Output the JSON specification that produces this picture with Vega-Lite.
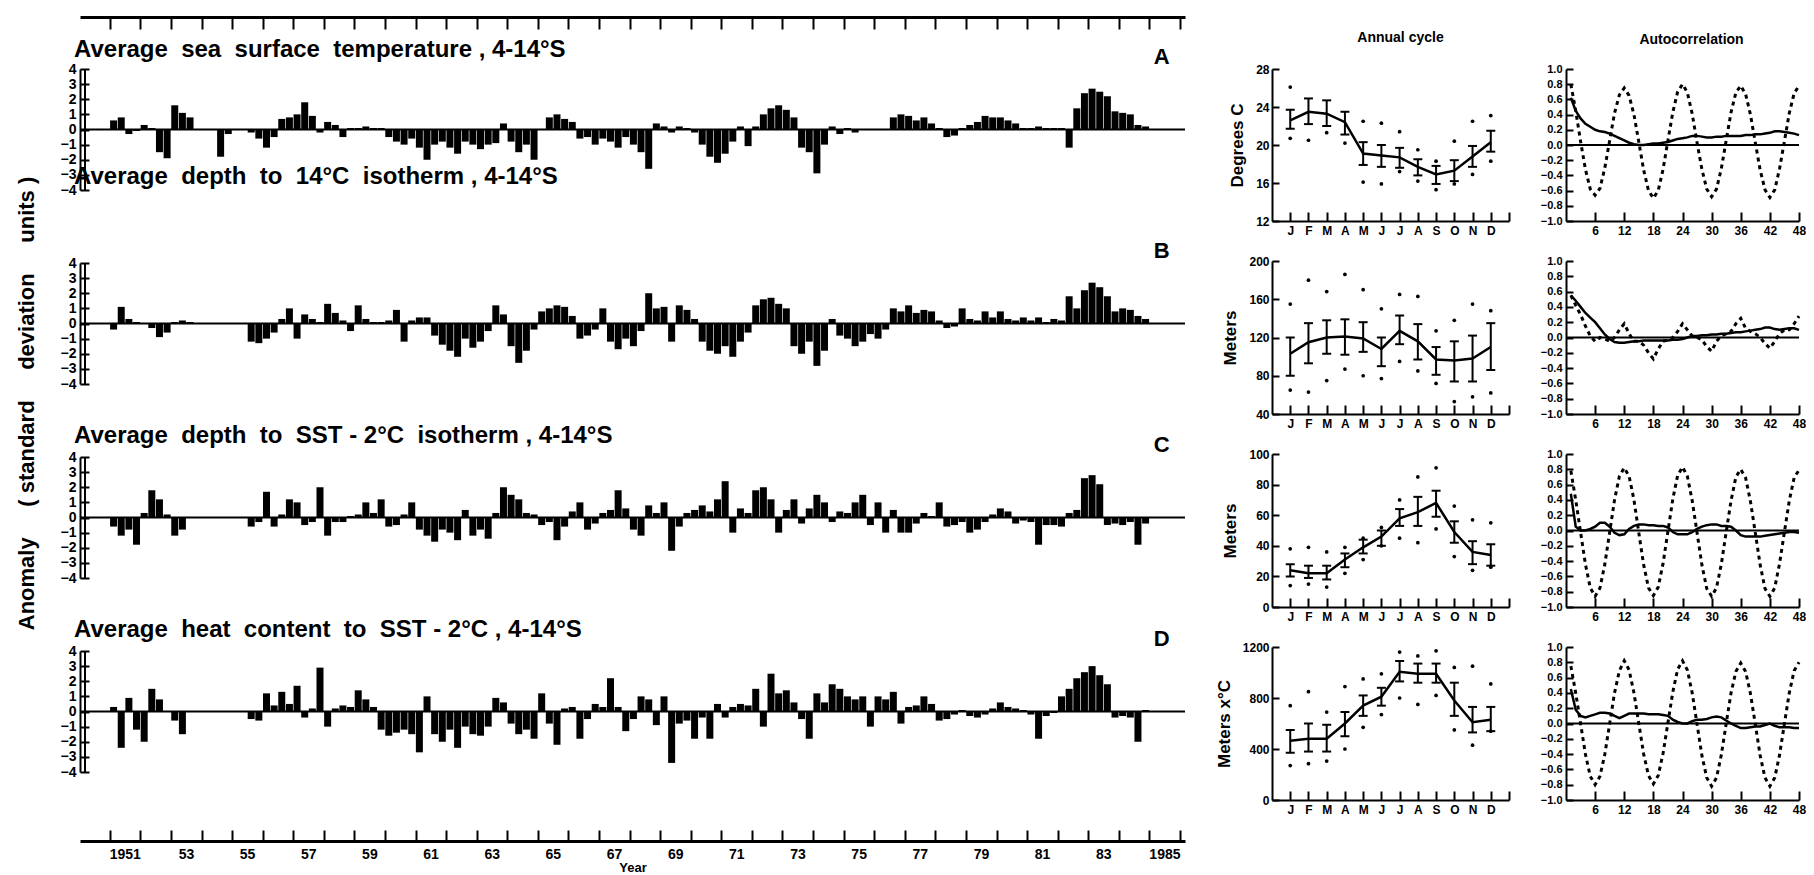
{
"$schema":"https://vega.github.io/schema/vega-lite/v6.json",
"background":"white",
"padding":{"left":14,"top":16,"right":0,"bottom":0},
"config":{
 "font":"Liberation Sans",
 "view":{"stroke":null},
 "axis":{"labelFont":"Liberation Sans","labelFontWeight":"bold","labelColor":"black","titleFont":"Liberation Sans","titleFontWeight":"bold","titleColor":"black","domain":true,"domainColor":"black","domainWidth":2,"ticks":true,"tickColor":"black","tickWidth":2,"grid":false,"labelFlush":false,"labelOverlap":false,"tickCount":100},
 "title":{"font":"Liberation Sans","fontWeight":"bold","color":"black"}
},
"datasets":{
"ts":[
{"t":1951.125,"a":0.6,"b":-0.4,"c":-0.6,"d":0.3},{"t":1951.375,"a":0.8,"b":1.1,"c":-1.2,"d":-2.4},{"t":1951.625,"a":-0.3,"b":0.3,"c":-0.8,"d":0.9},{"t":1951.875,"a":-0.1,"b":0.1,"c":-1.8,"d":-1.2},
{"t":1952.125,"a":0.3,"b":0.0,"c":0.3,"d":-2.0},{"t":1952.375,"a":0.1,"b":-0.3,"c":1.8,"d":1.5},{"t":1952.625,"a":-1.5,"b":-0.9,"c":1.2,"d":0.8},{"t":1952.875,"a":-1.9,"b":-0.6,"c":0.2,"d":0.0},
{"t":1953.125,"a":1.6,"b":0.1,"c":-1.2,"d":-0.6},{"t":1953.375,"a":1.1,"b":0.2,"c":-0.8,"d":-1.5},{"t":1953.625,"a":0.8,"b":0.1,"c":0.0,"d":0.0},{"t":1953.875,"a":0.0,"b":0.0,"c":0.0,"d":0.0},
{"t":1954.125,"a":0.0,"b":0.0,"c":0.0,"d":0.0},{"t":1954.375,"a":0.0,"b":0.0,"c":0.0,"d":0.0},{"t":1954.625,"a":-1.8,"b":0.0,"c":0.0,"d":0.0},{"t":1954.875,"a":-0.3,"b":0.0,"c":0.0,"d":0.0},
{"t":1955.125,"a":0.0,"b":0.0,"c":0.0,"d":0.0},{"t":1955.375,"a":0.0,"b":0.0,"c":0.0,"d":0.0},{"t":1955.625,"a":-0.2,"b":-1.2,"c":-0.6,"d":-0.5},{"t":1955.875,"a":-0.6,"b":-1.3,"c":-0.3,"d":-0.6},
{"t":1956.125,"a":-1.2,"b":-1.0,"c":1.7,"d":1.2},{"t":1956.375,"a":-0.5,"b":-0.6,"c":-0.6,"d":0.4},{"t":1956.625,"a":0.7,"b":0.3,"c":0.2,"d":1.3},{"t":1956.875,"a":0.8,"b":1.0,"c":1.2,"d":0.5},
{"t":1957.125,"a":1.0,"b":-1.0,"c":1.0,"d":1.7},{"t":1957.375,"a":1.8,"b":0.6,"c":-0.5,"d":-0.4},{"t":1957.625,"a":0.9,"b":0.3,"c":-0.3,"d":0.2},{"t":1957.875,"a":-0.2,"b":0.1,"c":2.0,"d":2.9},
{"t":1958.125,"a":0.5,"b":1.3,"c":-1.2,"d":-1.0},{"t":1958.375,"a":0.3,"b":0.7,"c":-0.3,"d":0.2},{"t":1958.625,"a":-0.5,"b":0.2,"c":-0.3,"d":0.4},{"t":1958.875,"a":0.1,"b":-0.5,"c":0.1,"d":0.3},
{"t":1959.125,"a":0.1,"b":1.2,"c":0.2,"d":1.4},{"t":1959.375,"a":0.2,"b":0.3,"c":1.0,"d":0.8},{"t":1959.625,"a":0.1,"b":0.1,"c":0.3,"d":0.3},{"t":1959.875,"a":0.1,"b":0.1,"c":1.2,"d":-1.2},
{"t":1960.125,"a":-0.5,"b":0.2,"c":-0.6,"d":-1.6},{"t":1960.375,"a":-0.8,"b":0.9,"c":-0.5,"d":-1.4},{"t":1960.625,"a":-1.0,"b":-1.2,"c":0.2,"d":-1.2},{"t":1960.875,"a":-0.6,"b":0.2,"c":1.0,"d":-1.5},
{"t":1961.125,"a":-1.2,"b":0.4,"c":-0.8,"d":-2.7},{"t":1961.375,"a":-2.0,"b":0.4,"c":-1.2,"d":1.0},{"t":1961.625,"a":-1.0,"b":-0.8,"c":-1.6,"d":-1.5},{"t":1961.875,"a":-0.8,"b":-1.4,"c":-0.8,"d":-2.0},
{"t":1962.125,"a":-1.2,"b":-1.8,"c":-1.0,"d":-1.2},{"t":1962.375,"a":-1.6,"b":-2.2,"c":-1.5,"d":-2.4},{"t":1962.625,"a":-0.8,"b":-1.0,"c":0.5,"d":-1.0},{"t":1962.875,"a":-1.0,"b":-1.6,"c":-1.2,"d":-1.5},
{"t":1963.125,"a":-1.3,"b":-1.2,"c":-0.8,"d":-1.6},{"t":1963.375,"a":-1.0,"b":-0.5,"c":-1.4,"d":-1.0},{"t":1963.625,"a":-0.9,"b":1.2,"c":0.3,"d":0.9},{"t":1963.875,"a":0.4,"b":0.6,"c":2.0,"d":0.6},
{"t":1964.125,"a":-0.8,"b":-1.5,"c":1.5,"d":-0.8},{"t":1964.375,"a":-1.5,"b":-2.6,"c":1.2,"d":-1.5},{"t":1964.625,"a":-1.0,"b":-1.8,"c":0.3,"d":-1.2},{"t":1964.875,"a":-2.0,"b":-0.4,"c":0.2,"d":-1.8},
{"t":1965.125,"a":0.0,"b":0.8,"c":-0.5,"d":1.2},{"t":1965.375,"a":0.8,"b":1.0,"c":-0.3,"d":-0.8},{"t":1965.625,"a":1.0,"b":1.2,"c":-1.5,"d":-2.2},{"t":1965.875,"a":0.7,"b":1.1,"c":-0.6,"d":0.2},
{"t":1966.125,"a":0.5,"b":0.5,"c":0.4,"d":0.3},{"t":1966.375,"a":-0.6,"b":-1.0,"c":1.0,"d":-1.8},{"t":1966.625,"a":-0.5,"b":-0.8,"c":-0.8,"d":-0.5},{"t":1966.875,"a":-1.0,"b":-0.4,"c":-0.4,"d":0.5},
{"t":1967.125,"a":-0.6,"b":1.0,"c":0.3,"d":0.3},{"t":1967.375,"a":-0.8,"b":-1.2,"c":0.5,"d":2.2},{"t":1967.625,"a":-1.2,"b":-1.7,"c":1.8,"d":0.3},{"t":1967.875,"a":-0.5,"b":-1.0,"c":0.6,"d":-1.3},
{"t":1968.125,"a":-1.0,"b":-1.5,"c":-0.8,"d":-0.5},{"t":1968.375,"a":-1.5,"b":-0.5,"c":-1.2,"d":1.0},{"t":1968.625,"a":-2.6,"b":2.0,"c":0.8,"d":0.8},{"t":1968.875,"a":0.4,"b":1.0,"c":0.3,"d":-0.9},
{"t":1969.125,"a":0.2,"b":1.1,"c":1.0,"d":1.0},{"t":1969.375,"a":-0.2,"b":-1.2,"c":-2.2,"d":-3.4},{"t":1969.625,"a":0.2,"b":1.2,"c":-0.6,"d":-0.8},{"t":1969.875,"a":0.1,"b":0.9,"c":0.3,"d":-0.6},
{"t":1970.125,"a":-0.2,"b":0.3,"c":0.5,"d":-1.8},{"t":1970.375,"a":-1.0,"b":-1.2,"c":0.8,"d":-0.4},{"t":1970.625,"a":-1.8,"b":-1.8,"c":0.4,"d":-1.8},{"t":1970.875,"a":-2.2,"b":-2.0,"c":1.2,"d":0.5},
{"t":1971.125,"a":-1.6,"b":-1.5,"c":2.4,"d":-0.4},{"t":1971.375,"a":-0.8,"b":-2.2,"c":-1.0,"d":0.3},{"t":1971.625,"a":0.2,"b":-1.2,"c":0.6,"d":0.5},{"t":1971.875,"a":-1.1,"b":-0.6,"c":0.3,"d":0.4},
{"t":1972.125,"a":0.2,"b":1.2,"c":1.8,"d":1.5},{"t":1972.375,"a":1.0,"b":1.6,"c":2.0,"d":-1.0},{"t":1972.625,"a":1.4,"b":1.7,"c":1.2,"d":2.5},{"t":1972.875,"a":1.6,"b":1.3,"c":-1.0,"d":1.2},
{"t":1973.125,"a":1.3,"b":1.0,"c":0.5,"d":1.4},{"t":1973.375,"a":0.8,"b":-1.5,"c":1.2,"d":0.6},{"t":1973.625,"a":-1.2,"b":-2.0,"c":-0.4,"d":-0.5},{"t":1973.875,"a":-1.5,"b":-1.2,"c":0.6,"d":-1.8},
{"t":1974.125,"a":-2.9,"b":-2.8,"c":1.5,"d":1.2},{"t":1974.375,"a":-1.0,"b":-1.8,"c":1.0,"d":0.6},{"t":1974.625,"a":0.2,"b":0.3,"c":-0.3,"d":1.8},{"t":1974.875,"a":-0.3,"b":-0.8,"c":0.4,"d":1.5},
{"t":1975.125,"a":0.1,"b":-1.0,"c":0.3,"d":1.0},{"t":1975.375,"a":-0.2,"b":-1.5,"c":1.0,"d":0.8},{"t":1975.625,"a":0.0,"b":-1.2,"c":1.5,"d":1.0},{"t":1975.875,"a":0.0,"b":-0.7,"c":-0.5,"d":-1.0},
{"t":1976.125,"a":0.0,"b":-1.0,"c":1.0,"d":1.0},{"t":1976.375,"a":0.0,"b":-0.4,"c":-1.0,"d":0.8},{"t":1976.625,"a":0.8,"b":1.0,"c":0.5,"d":1.3},{"t":1976.875,"a":1.0,"b":0.8,"c":-1.0,"d":-0.8},
{"t":1977.125,"a":0.9,"b":1.2,"c":-1.0,"d":0.3},{"t":1977.375,"a":0.6,"b":0.7,"c":-0.4,"d":0.4},{"t":1977.625,"a":0.8,"b":0.9,"c":0.3,"d":1.0},{"t":1977.875,"a":0.4,"b":0.8,"c":0.1,"d":0.5},
{"t":1978.125,"a":0.1,"b":0.2,"c":1.0,"d":-0.6},{"t":1978.375,"a":-0.5,"b":-0.3,"c":-0.6,"d":-0.5},{"t":1978.625,"a":-0.4,"b":-0.2,"c":-0.5,"d":-0.2},{"t":1978.875,"a":0.1,"b":1.0,"c":-0.3,"d":0.1},
{"t":1979.125,"a":0.3,"b":0.3,"c":-1.0,"d":-0.3},{"t":1979.375,"a":0.5,"b":0.2,"c":-0.8,"d":-0.4},{"t":1979.625,"a":0.9,"b":0.8,"c":-0.3,"d":-0.2},{"t":1979.875,"a":0.8,"b":0.4,"c":0.2,"d":0.2},
{"t":1980.125,"a":0.8,"b":0.8,"c":0.6,"d":0.6},{"t":1980.375,"a":0.6,"b":0.3,"c":0.4,"d":0.3},{"t":1980.625,"a":0.4,"b":0.2,"c":-0.4,"d":0.2},{"t":1980.875,"a":0.1,"b":0.4,"c":-0.2,"d":0.1},
{"t":1981.125,"a":0.1,"b":0.2,"c":-0.3,"d":-0.2},{"t":1981.375,"a":0.2,"b":0.4,"c":-1.8,"d":-1.8},{"t":1981.625,"a":0.1,"b":0.1,"c":-0.5,"d":-0.3},{"t":1981.875,"a":0.1,"b":0.3,"c":-0.5,"d":-0.1},
{"t":1982.125,"a":0.1,"b":0.2,"c":-0.6,"d":1.0},{"t":1982.375,"a":-1.2,"b":1.8,"c":0.3,"d":1.5},{"t":1982.625,"a":1.4,"b":1.0,"c":0.5,"d":2.2},{"t":1982.875,"a":2.4,"b":2.2,"c":2.6,"d":2.6},
{"t":1983.125,"a":2.7,"b":2.7,"c":2.8,"d":3.0},{"t":1983.375,"a":2.5,"b":2.4,"c":2.2,"d":2.4},{"t":1983.625,"a":2.2,"b":1.8,"c":-0.5,"d":1.8},{"t":1983.875,"a":1.2,"b":0.8,"c":-0.4,"d":-0.4},
{"t":1984.125,"a":1.1,"b":1.0,"c":-0.5,"d":-0.3},{"t":1984.375,"a":1.0,"b":0.9,"c":-0.3,"d":-0.4},{"t":1984.625,"a":0.3,"b":0.5,"c":-1.8,"d":-2.0},{"t":1984.875,"a":0.2,"b":0.3,"c":-0.4,"d":0.1}
],
"ann":[
{"m":1,"a_mean":22.6,"a_lo":21.7,"a_hi":23.7,"a_up":26.1,"a_dn":20.7,"b_mean":103,"b_lo":80,"b_hi":120,"b_up":155,"b_dn":65,"c_mean":24,"c_lo":20,"c_hi":28,"c_up":38,"c_dn":14,"d_mean":465,"d_lo":370,"d_hi":550,"d_up":740,"d_dn":270},
{"m":2,"a_mean":23.5,"a_lo":22.2,"a_hi":24.9,"a_up":null,"a_dn":20.5,"b_mean":115,"b_lo":93,"b_hi":135,"b_up":180,"b_dn":63,"c_mean":22,"c_lo":19,"c_hi":27,"c_up":39,"c_dn":15,"d_mean":480,"d_lo":380,"d_hi":600,"d_up":850,"d_dn":285},
{"m":3,"a_mean":23.3,"a_lo":22.0,"a_hi":24.7,"a_up":null,"a_dn":21.3,"b_mean":120,"b_lo":103,"b_hi":138,"b_up":168,"b_dn":75,"c_mean":22,"c_lo":18,"c_hi":27,"c_up":36,"c_dn":13,"d_mean":480,"d_lo":380,"d_hi":590,"d_up":690,"d_dn":305},
{"m":4,"a_mean":22.4,"a_lo":21.1,"a_hi":23.5,"a_up":null,"a_dn":20.2,"b_mean":121,"b_lo":102,"b_hi":139,"b_up":186,"b_dn":87,"c_mean":31,"c_lo":26,"c_hi":35,"c_up":39,"c_dn":22,"d_mean":600,"d_lo":500,"d_hi":690,"d_up":890,"d_dn":400},
{"m":5,"a_mean":19.1,"a_lo":17.9,"a_hi":20.3,"a_up":22.5,"a_dn":16.1,"b_mean":119,"b_lo":105,"b_hi":136,"b_up":170,"b_dn":80,"c_mean":39,"c_lo":35,"c_hi":44,"c_up":45,"c_dn":31,"d_mean":740,"d_lo":660,"d_hi":820,"d_up":950,"d_dn":570},
{"m":6,"a_mean":18.9,"a_lo":17.7,"a_hi":20.0,"a_up":22.3,"a_dn":15.9,"b_mean":108,"b_lo":90,"b_hi":120,"b_up":150,"b_dn":77,"c_mean":46,"c_lo":40,"c_hi":50,"c_up":52,"c_dn":40,"d_mean":810,"d_lo":740,"d_hi":880,"d_up":990,"d_dn":670},
{"m":7,"a_mean":18.7,"a_lo":17.6,"a_hi":19.7,"a_up":21.4,"a_dn":17.2,"b_mean":127,"b_lo":113,"b_hi":143,"b_up":165,"b_dn":95,"c_mean":58,"c_lo":53,"c_hi":64,"c_up":70,"c_dn":45,"d_mean":1005,"d_lo":930,"d_hi":1090,"d_up":1160,"d_dn":800},
{"m":8,"a_mean":17.7,"a_lo":16.8,"a_hi":18.5,"a_up":19.5,"a_dn":16.2,"b_mean":116,"b_lo":97,"b_hi":134,"b_up":163,"b_dn":85,"c_mean":62,"c_lo":53,"c_hi":72,"c_up":85,"c_dn":42,"d_mean":990,"d_lo":920,"d_hi":1070,"d_up":1130,"d_dn":750},
{"m":9,"a_mean":16.9,"a_lo":15.9,"a_hi":17.8,"a_up":18.3,"a_dn":15.3,"b_mean":97,"b_lo":81,"b_hi":110,"b_up":127,"b_dn":72,"c_mean":68,"c_lo":59,"c_hi":76,"c_up":91,"c_dn":51,"d_mean":990,"d_lo":920,"d_hi":1070,"d_up":1170,"d_dn":820},
{"m":10,"a_mean":17.3,"a_lo":16.2,"a_hi":18.4,"a_up":20.4,"a_dn":15.9,"b_mean":96,"b_lo":74,"b_hi":116,"b_up":138,"b_dn":53,"c_mean":49,"c_lo":42,"c_hi":56,"c_up":66,"c_dn":33,"d_mean":780,"d_lo":660,"d_hi":920,"d_up":1040,"d_dn":550},
{"m":11,"a_mean":18.8,"a_lo":17.7,"a_hi":19.9,"a_up":22.5,"a_dn":16.9,"b_mean":98,"b_lo":74,"b_hi":122,"b_up":155,"b_dn":58,"c_mean":36,"c_lo":28,"c_hi":43,"c_up":57,"c_dn":24,"d_mean":610,"d_lo":530,"d_hi":730,"d_up":1050,"d_dn":430},
{"m":12,"a_mean":20.3,"a_lo":19.3,"a_hi":21.5,"a_up":23.1,"a_dn":18.3,"b_mean":110,"b_lo":86,"b_hi":135,"b_up":148,"b_dn":62,"c_mean":34,"c_lo":27,"c_hi":41,"c_up":55,"c_dn":26,"d_mean":630,"d_lo":540,"d_hi":730,"d_up":910,"d_dn":540}
],
"ac":[
{"lag":1,"a1":0.62,"a2":0.80,"b1":0.55,"b2":0.55,"c1":0.48,"c2":0.78,"d1":0.45,"d2":0.75},
{"lag":2,"a1":0.45,"a2":0.45,"b1":0.48,"b2":0.42,"c1":0.05,"c2":0.40,"d1":0.18,"d2":0.40},
{"lag":3,"a1":0.35,"a2":0.05,"b1":0.40,"b2":0.30,"c1":0.0,"c2":-0.02,"d1":0.10,"d2":0.0},
{"lag":4,"a1":0.28,"a2":-0.32,"b1":0.32,"b2":0.15,"c1":0.0,"c2":-0.44,"d1":0.08,"d2":-0.40},
{"lag":5,"a1":0.24,"a2":-0.58,"b1":0.26,"b2":0.02,"c1":0.02,"c2":-0.75,"d1":0.10,"d2":-0.69},
{"lag":6,"a1":0.20,"a2":-0.66,"b1":0.20,"b2":-0.05,"c1":0.05,"c2":-0.86,"d1":0.12,"d2":-0.80},
{"lag":7,"a1":0.18,"a2":-0.57,"b1":0.12,"b2":0.0,"c1":0.10,"c2":-0.75,"d1":0.14,"d2":-0.69},
{"lag":8,"a1":0.17,"a2":-0.30,"b1":0.04,"b2":-0.02,"c1":0.10,"c2":-0.44,"d1":0.14,"d2":-0.40},
{"lag":9,"a1":0.15,"a2":0.06,"b1":-0.02,"b2":-0.05,"c1":0.05,"c2":-0.02,"d1":0.13,"d2":0.0},
{"lag":10,"a1":0.12,"a2":0.42,"b1":-0.06,"b2":0.0,"c1":-0.03,"c2":0.40,"d1":0.10,"d2":0.40},
{"lag":11,"a1":0.09,"a2":0.66,"b1":-0.07,"b2":0.10,"c1":-0.06,"c2":0.71,"d1":0.07,"d2":0.69},
{"lag":12,"a1":0.06,"a2":0.75,"b1":-0.07,"b2":0.18,"c1":-0.05,"c2":0.82,"d1":0.10,"d2":0.82},
{"lag":13,"a1":0.03,"a2":0.65,"b1":-0.06,"b2":0.05,"c1":0.02,"c2":0.71,"d1":0.13,"d2":0.70},
{"lag":14,"a1":0.01,"a2":0.40,"b1":-0.05,"b2":-0.05,"c1":0.06,"c2":0.40,"d1":0.13,"d2":0.40},
{"lag":15,"a1":0.0,"a2":0.04,"b1":-0.05,"b2":-0.05,"c1":0.08,"c2":-0.03,"d1":0.13,"d2":0.0},
{"lag":16,"a1":0.0,"a2":-0.33,"b1":-0.04,"b2":-0.10,"c1":0.08,"c2":-0.45,"d1":0.13,"d2":-0.40},
{"lag":17,"a1":0.01,"a2":-0.60,"b1":-0.04,"b2":-0.20,"c1":0.07,"c2":-0.75,"d1":0.12,"d2":-0.68},
{"lag":18,"a1":0.02,"a2":-0.70,"b1":-0.04,"b2":-0.28,"c1":0.07,"c2":-0.85,"d1":0.12,"d2":-0.79},
{"lag":19,"a1":0.02,"a2":-0.60,"b1":-0.04,"b2":-0.15,"c1":0.06,"c2":-0.74,"d1":0.12,"d2":-0.68},
{"lag":20,"a1":0.03,"a2":-0.32,"b1":-0.04,"b2":-0.05,"c1":0.06,"c2":-0.43,"d1":0.11,"d2":-0.39},
{"lag":21,"a1":0.04,"a2":0.06,"b1":-0.04,"b2":-0.03,"c1":0.04,"c2":-0.01,"d1":0.10,"d2":0.01},
{"lag":22,"a1":0.06,"a2":0.43,"b1":-0.03,"b2":0.0,"c1":-0.02,"c2":0.41,"d1":0.05,"d2":0.41},
{"lag":23,"a1":0.08,"a2":0.70,"b1":-0.03,"b2":0.08,"c1":-0.05,"c2":0.72,"d1":0.02,"d2":0.71},
{"lag":24,"a1":0.09,"a2":0.80,"b1":-0.02,"b2":0.18,"c1":-0.05,"c2":0.83,"d1":0.0,"d2":0.82},
{"lag":25,"a1":0.10,"a2":0.69,"b1":0.0,"b2":0.10,"c1":-0.05,"c2":0.71,"d1":0.0,"d2":0.70},
{"lag":26,"a1":0.12,"a2":0.41,"b1":0.02,"b2":0.02,"c1":-0.02,"c2":0.39,"d1":0.03,"d2":0.40},
{"lag":27,"a1":0.12,"a2":0.03,"b1":0.02,"b2":0.0,"c1":0.02,"c2":-0.03,"d1":0.05,"d2":-0.01},
{"lag":28,"a1":0.11,"a2":-0.32,"b1":0.03,"b2":-0.03,"c1":0.05,"c2":-0.45,"d1":0.05,"d2":-0.42},
{"lag":29,"a1":0.10,"a2":-0.58,"b1":0.03,"b2":-0.12,"c1":0.07,"c2":-0.76,"d1":0.06,"d2":-0.71},
{"lag":30,"a1":0.10,"a2":-0.68,"b1":0.04,"b2":-0.18,"c1":0.08,"c2":-0.86,"d1":0.08,"d2":-0.82},
{"lag":31,"a1":0.11,"a2":-0.58,"b1":0.04,"b2":-0.05,"c1":0.08,"c2":-0.75,"d1":0.09,"d2":-0.71},
{"lag":32,"a1":0.11,"a2":-0.31,"b1":0.05,"b2":0.02,"c1":0.06,"c2":-0.44,"d1":0.08,"d2":-0.41},
{"lag":33,"a1":0.12,"a2":0.06,"b1":0.05,"b2":0.05,"c1":0.06,"c2":-0.02,"d1":0.04,"d2":0.0},
{"lag":34,"a1":0.12,"a2":0.43,"b1":0.06,"b2":0.08,"c1":0.05,"c2":0.39,"d1":0.0,"d2":0.40},
{"lag":35,"a1":0.12,"a2":0.69,"b1":0.07,"b2":0.18,"c1":0.0,"c2":0.70,"d1":-0.03,"d2":0.68},
{"lag":36,"a1":0.12,"a2":0.78,"b1":0.07,"b2":0.25,"c1":-0.06,"c2":0.80,"d1":-0.06,"d2":0.79},
{"lag":37,"a1":0.13,"a2":0.67,"b1":0.08,"b2":0.12,"c1":-0.08,"c2":0.69,"d1":-0.06,"d2":0.68},
{"lag":38,"a1":0.13,"a2":0.40,"b1":0.09,"b2":0.08,"c1":-0.08,"c2":0.38,"d1":-0.05,"d2":0.39},
{"lag":39,"a1":0.14,"a2":0.03,"b1":0.10,"b2":0.05,"c1":-0.08,"c2":-0.03,"d1":-0.04,"d2":-0.01},
{"lag":40,"a1":0.14,"a2":-0.33,"b1":0.11,"b2":0.0,"c1":-0.08,"c2":-0.45,"d1":-0.04,"d2":-0.42},
{"lag":41,"a1":0.15,"a2":-0.59,"b1":0.13,"b2":-0.08,"c1":-0.07,"c2":-0.76,"d1":-0.02,"d2":-0.71},
{"lag":42,"a1":0.16,"a2":-0.69,"b1":0.13,"b2":-0.14,"c1":-0.06,"c2":-0.86,"d1":0.0,"d2":-0.82},
{"lag":43,"a1":0.18,"a2":-0.59,"b1":0.11,"b2":-0.05,"c1":-0.05,"c2":-0.75,"d1":-0.03,"d2":-0.71},
{"lag":44,"a1":0.18,"a2":-0.31,"b1":0.10,"b2":0.05,"c1":-0.04,"c2":-0.43,"d1":-0.05,"d2":-0.41},
{"lag":45,"a1":0.17,"a2":0.05,"b1":0.11,"b2":0.10,"c1":-0.03,"c2":-0.02,"d1":-0.05,"d2":0.0},
{"lag":46,"a1":0.16,"a2":0.42,"b1":0.12,"b2":0.10,"c1":-0.02,"c2":0.39,"d1":-0.05,"d2":0.40},
{"lag":47,"a1":0.15,"a2":0.68,"b1":0.12,"b2":0.18,"c1":-0.02,"c2":0.69,"d1":-0.06,"d2":0.69},
{"lag":48,"a1":0.13,"a2":0.78,"b1":0.10,"b2":0.28,"c1":-0.03,"c2":0.79,"d1":-0.06,"d2":0.80}
]
},
"hconcat":[
 {"vconcat":[
  {"width":1105,"height":121,"data":{"name":"ts"},
   "title":{"text":"Average\u00a0 sea\u00a0 surface\u00a0 temperature , 4-14°S","anchor":"start","frame":"group","fontSize":24,"offset":-46,"dx":-6},
   "layer":[
    {"mark":{"type":"bar","color":"black","size":7},
     "encoding":{"x":{"field":"t","type":"quantitative","scale":{"domain":[1950.19,1986],"nice":false,"zero":false},
       "axis":{"orient":"top","offset":52,"values":[1951,1952,1953,1954,1955,1956,1957,1958,1959,1960,1961,1962,1963,1964,1965,1966,1967,1968,1969,1970,1971,1972,1973,1974,1975,1976,1977,1978,1979,1980,1981,1982,1983,1984,1985,1986],"tickCount":100,"labels":false,"tickSize":-12,"title":null,"domainWidth":3}},
      "y":{"field":"a","type":"quantitative","scale":{"domain":[-4,4],"nice":false},"axis":{"values":[-4,-3,-2,-1,0,1,2,3,4],"format":"d","tickCount":100,"labelOverlap":false,"domain":true,"tickSize":-9,"labelFontSize":14,"labelPadding":13,"title":null}}}},
    {"data":{"values":[{"k":0}]},"mark":{"type":"rule","color":"black","strokeWidth":2},"encoding":{"y":{"datum":0}}},
    {"data":{"values":[{"k":0}]},"mark":{"type":"rule","color":"black","strokeWidth":2},"encoding":{"x":{"datum":1950.19}}},
    {"data":{"values":[{"k":"A"}]},"mark":{"type":"text","fontSize":22,"fontWeight":"bold","baseline":"bottom","dy":0},"encoding":{"text":{"field":"k"},"x":{"datum":1985.4},"y":{"datum":4}}}
   ]},
  {"width":1105,"height":121,"data":{"name":"ts"},
   "title":{"text":"Average\u00a0 depth\u00a0 to\u00a0 14°C\u00a0 isotherm , 4-14°S","anchor":"start","frame":"group","fontSize":24,"offset":-13,"dx":-6},
   "layer":[
    {"mark":{"type":"bar","color":"black","size":7},
     "encoding":{"x":{"field":"t","type":"quantitative","scale":{"domain":[1950.19,1986],"nice":false,"zero":false},"axis":null},
      "y":{"field":"b","type":"quantitative","scale":{"domain":[-4,4],"nice":false},"axis":{"values":[-4,-3,-2,-1,0,1,2,3,4],"format":"d","tickCount":100,"labelOverlap":false,"domain":true,"tickSize":-9,"labelFontSize":14,"labelPadding":13,"title":"Anomaly\u00a0\u00a0\u00a0\u00a0 ( standard\u00a0\u00a0\u00a0\u00a0 deviation\u00a0\u00a0\u00a0\u00a0 units )","titleFontSize":22,"titleX":-42,"titleY":140}}}},
    {"data":{"values":[{"k":0}]},"mark":{"type":"rule","color":"black","strokeWidth":2},"encoding":{"y":{"datum":0}}},
    {"data":{"values":[{"k":0}]},"mark":{"type":"rule","color":"black","strokeWidth":2},"encoding":{"x":{"datum":1950.19}}},
    {"data":{"values":[{"k":"B"}]},"mark":{"type":"text","fontSize":22,"fontWeight":"bold","baseline":"bottom","dy":0},"encoding":{"text":{"field":"k"},"x":{"datum":1985.4},"y":{"datum":4}}}
   ]},
  {"width":1105,"height":121,"data":{"name":"ts"},
   "title":{"text":"Average\u00a0 depth\u00a0 to\u00a0 SST - 2°C\u00a0 isotherm , 4-14°S","anchor":"start","frame":"group","fontSize":24,"offset":-14,"dx":-6},
   "layer":[
    {"mark":{"type":"bar","color":"black","size":7},
     "encoding":{"x":{"field":"t","type":"quantitative","scale":{"domain":[1950.19,1986],"nice":false,"zero":false},"axis":null},
      "y":{"field":"c","type":"quantitative","scale":{"domain":[-4,4],"nice":false},"axis":{"values":[-4,-3,-2,-1,0,1,2,3,4],"format":"d","tickCount":100,"labelOverlap":false,"domain":true,"tickSize":-9,"labelFontSize":14,"labelPadding":13,"title":null}}}},
    {"data":{"values":[{"k":0}]},"mark":{"type":"rule","color":"black","strokeWidth":2},"encoding":{"y":{"datum":0}}},
    {"data":{"values":[{"k":0}]},"mark":{"type":"rule","color":"black","strokeWidth":2},"encoding":{"x":{"datum":1950.19}}},
    {"data":{"values":[{"k":"C"}]},"mark":{"type":"text","fontSize":22,"fontWeight":"bold","baseline":"bottom","dy":0},"encoding":{"text":{"field":"k"},"x":{"datum":1985.4},"y":{"datum":4}}}
   ]},
  {"width":1105,"height":121,"data":{"name":"ts"},
   "title":{"text":"Average\u00a0 heat\u00a0 content\u00a0 to\u00a0 SST - 2°C , 4-14°S","anchor":"start","frame":"group","fontSize":24,"offset":-14,"dx":-6},
   "layer":[
    {"mark":{"type":"bar","color":"black","size":7},
     "encoding":{"x":{"field":"t","type":"quantitative","scale":{"domain":[1950.19,1986],"nice":false,"zero":false},
       "axis":{"orient":"bottom","offset":69,"values":[1951,1952,1953,1954,1955,1956,1957,1958,1959,1960,1961,1962,1963,1964,1965,1966,1967,1968,1969,1970,1971,1972,1973,1974,1975,1976,1977,1978,1979,1980,1981,1982,1983,1984,1985,1986],"tickCount":100,"labelOverlap":false,"tickSize":-11,"labelExpr":"datum.value == 1951 || datum.value == 1985 ? toString(datum.value) : (datum.value % 2 == 1 ? substring(toString(datum.value), 2) : '')","labelOffset":15,"labelFontSize":14,"labelPadding":17,"title":"Year","titleFontSize":13,"titlePadding":0,"domainWidth":3}},
      "y":{"field":"d","type":"quantitative","scale":{"domain":[-4,4],"nice":false},"axis":{"values":[-4,-3,-2,-1,0,1,2,3,4],"format":"d","tickCount":100,"labelOverlap":false,"domain":true,"tickSize":-9,"labelFontSize":14,"labelPadding":13,"title":null}}}},
    {"data":{"values":[{"k":0}]},"mark":{"type":"rule","color":"black","strokeWidth":2},"encoding":{"y":{"datum":0}}},
    {"data":{"values":[{"k":0}]},"mark":{"type":"rule","color":"black","strokeWidth":2},"encoding":{"x":{"datum":1950.19}}},
    {"data":{"values":[{"k":"D"}]},"mark":{"type":"text","fontSize":22,"fontWeight":"bold","baseline":"bottom","dy":0},"encoding":{"text":{"field":"k"},"x":{"datum":1985.4},"y":{"datum":4}}}
   ]}
 ],"spacing":73,"bounds":"flush"},
 {"hconcat":[
  {"vconcat":[
   {"width":237,"height":152,"data":{"name":"ann"},"title":{"text":"Annual cycle","fontSize":14,"offset":18,"dx":10},
    "encoding":{"x":{"field":"m","type":"quantitative","scale":{"domain":[0,13],"nice":false,"zero":false},"axis":{"values":[1,2,3,4,5,6,7,8,9,10,11,12,13],"tickCount":100,"labelOverlap":false,"tickSize":-9,"labelExpr":"datum.value <= 12 ? ['J','F','M','A','M','J','J','A','S','O','N','D'][datum.value - 1] : ''","labelFontSize":12,"labelPadding":13,"title":null}}},
    "layer":[
     {"mark":{"type":"rule","color":"black","strokeWidth":2},"encoding":{"y":{"field":"a_lo","type":"quantitative","title":"Degrees C","scale":{"domain":[12,28],"nice":false,"zero":false},"axis":{"values":[12,16,20,24,28],"format":"d","tickCount":100,"labelOverlap":false,"tickSize":-7,"labelFontSize":12,"labelPadding":10,"titleFontSize":17,"titlePadding":9}},"y2":{"field":"a_hi"}}},
     {"mark":{"type":"tick","orient":"horizontal","color":"black","size":9,"thickness":2,"opacity":1},"encoding":{"y":{"field":"a_lo","type":"quantitative","title":"Degrees C"}}},
     {"mark":{"type":"tick","orient":"horizontal","color":"black","size":9,"thickness":2,"opacity":1},"encoding":{"y":{"field":"a_hi","type":"quantitative","title":"Degrees C"}}},
     {"mark":{"type":"line","color":"black","strokeWidth":2.5},"encoding":{"y":{"field":"a_mean","type":"quantitative","title":"Degrees C"}}},
     {"mark":{"type":"point","filled":true,"color":"black","size":14,"opacity":1},"encoding":{"y":{"field":"a_up","type":"quantitative","title":"Degrees C"}}},
     {"mark":{"type":"point","filled":true,"color":"black","size":14,"opacity":1},"encoding":{"y":{"field":"a_dn","type":"quantitative","title":"Degrees C"}}}
    ]},
   {"width":237,"height":153,"data":{"name":"ann"},
    "encoding":{"x":{"field":"m","type":"quantitative","scale":{"domain":[0,13],"nice":false,"zero":false},"axis":{"values":[1,2,3,4,5,6,7,8,9,10,11,12,13],"tickCount":100,"labelOverlap":false,"tickSize":-9,"labelExpr":"datum.value <= 12 ? ['J','F','M','A','M','J','J','A','S','O','N','D'][datum.value - 1] : ''","labelFontSize":12,"labelPadding":13,"title":null}}},
    "layer":[
     {"mark":{"type":"rule","color":"black","strokeWidth":2},"encoding":{"y":{"field":"b_lo","type":"quantitative","title":"Meters","scale":{"domain":[40,200],"nice":false,"zero":false},"axis":{"values":[40,80,120,160,200],"format":"d","tickCount":100,"labelOverlap":false,"tickSize":-7,"labelFontSize":12,"labelPadding":10,"titleFontSize":17,"titlePadding":9}},"y2":{"field":"b_hi"}}},
     {"mark":{"type":"tick","orient":"horizontal","color":"black","size":9,"thickness":2,"opacity":1},"encoding":{"y":{"field":"b_lo","type":"quantitative","title":"Meters"}}},
     {"mark":{"type":"tick","orient":"horizontal","color":"black","size":9,"thickness":2,"opacity":1},"encoding":{"y":{"field":"b_hi","type":"quantitative","title":"Meters"}}},
     {"mark":{"type":"line","color":"black","strokeWidth":2.5},"encoding":{"y":{"field":"b_mean","type":"quantitative","title":"Meters"}}},
     {"mark":{"type":"point","filled":true,"color":"black","size":14,"opacity":1},"encoding":{"y":{"field":"b_up","type":"quantitative","title":"Meters"}}},
     {"mark":{"type":"point","filled":true,"color":"black","size":14,"opacity":1},"encoding":{"y":{"field":"b_dn","type":"quantitative","title":"Meters"}}}
    ]},
   {"width":237,"height":153,"data":{"name":"ann"},
    "encoding":{"x":{"field":"m","type":"quantitative","scale":{"domain":[0,13],"nice":false,"zero":false},"axis":{"values":[1,2,3,4,5,6,7,8,9,10,11,12,13],"tickCount":100,"labelOverlap":false,"tickSize":-9,"labelExpr":"datum.value <= 12 ? ['J','F','M','A','M','J','J','A','S','O','N','D'][datum.value - 1] : ''","labelFontSize":12,"labelPadding":13,"title":null}}},
    "layer":[
     {"mark":{"type":"rule","color":"black","strokeWidth":2},"encoding":{"y":{"field":"c_lo","type":"quantitative","title":"Meters","scale":{"domain":[0,100],"nice":false,"zero":false},"axis":{"values":[0,20,40,60,80,100],"format":"d","tickCount":100,"labelOverlap":false,"tickSize":-7,"labelFontSize":12,"labelPadding":10,"titleFontSize":17,"titlePadding":9}},"y2":{"field":"c_hi"}}},
     {"mark":{"type":"tick","orient":"horizontal","color":"black","size":9,"thickness":2,"opacity":1},"encoding":{"y":{"field":"c_lo","type":"quantitative","title":"Meters"}}},
     {"mark":{"type":"tick","orient":"horizontal","color":"black","size":9,"thickness":2,"opacity":1},"encoding":{"y":{"field":"c_hi","type":"quantitative","title":"Meters"}}},
     {"mark":{"type":"line","color":"black","strokeWidth":2.5},"encoding":{"y":{"field":"c_mean","type":"quantitative","title":"Meters"}}},
     {"mark":{"type":"point","filled":true,"color":"black","size":14,"opacity":1},"encoding":{"y":{"field":"c_up","type":"quantitative","title":"Meters"}}},
     {"mark":{"type":"point","filled":true,"color":"black","size":14,"opacity":1},"encoding":{"y":{"field":"c_dn","type":"quantitative","title":"Meters"}}}
    ]},
   {"width":237,"height":153,"data":{"name":"ann"},
    "encoding":{"x":{"field":"m","type":"quantitative","scale":{"domain":[0,13],"nice":false,"zero":false},"axis":{"values":[1,2,3,4,5,6,7,8,9,10,11,12,13],"tickCount":100,"labelOverlap":false,"tickSize":-9,"labelExpr":"datum.value <= 12 ? ['J','F','M','A','M','J','J','A','S','O','N','D'][datum.value - 1] : ''","labelFontSize":12,"labelPadding":13,"title":null}}},
    "layer":[
     {"mark":{"type":"rule","color":"black","strokeWidth":2},"encoding":{"y":{"field":"d_lo","type":"quantitative","title":"Meters x°C","scale":{"domain":[0,1200],"nice":false,"zero":false},"axis":{"values":[0,400,800,1200],"tickCount":100,"labelOverlap":false,"format":"d","tickSize":-7,"labelFontSize":12,"labelPadding":10,"titleFontSize":17,"titlePadding":9}},"y2":{"field":"d_hi"}}},
     {"mark":{"type":"tick","orient":"horizontal","color":"black","size":9,"thickness":2,"opacity":1},"encoding":{"y":{"field":"d_lo","type":"quantitative","title":"Meters x°C"}}},
     {"mark":{"type":"tick","orient":"horizontal","color":"black","size":9,"thickness":2,"opacity":1},"encoding":{"y":{"field":"d_hi","type":"quantitative","title":"Meters x°C"}}},
     {"mark":{"type":"line","color":"black","strokeWidth":2.5},"encoding":{"y":{"field":"d_mean","type":"quantitative","title":"Meters x°C"}}},
     {"mark":{"type":"point","filled":true,"color":"black","size":14,"opacity":1},"encoding":{"y":{"field":"d_up","type":"quantitative","title":"Meters x°C"}}},
     {"mark":{"type":"point","filled":true,"color":"black","size":14,"opacity":1},"encoding":{"y":{"field":"d_dn","type":"quantitative","title":"Meters x°C"}}}
    ]}
  ],"spacing":40,"bounds":"flush"},
  {"vconcat":[
   {"width":233,"height":152,"data":{"name":"ac"},"title":{"text":"Autocorrelation","fontSize":14,"offset":16,"dx":9},
    "layer":[
     {"mark":{"type":"line","color":"black","strokeWidth":2.5},"encoding":{"x":{"field":"lag","type":"quantitative","scale":{"domain":[0,48],"nice":false,"zero":false},"axis":{"values":[6,12,18,24,30,36,42,48],"format":"d","tickCount":100,"labelOverlap":false,"tickSize":-9,"labelFontSize":12,"labelPadding":13,"title":null}},"y":{"field":"a1","type":"quantitative","title":null,"scale":{"domain":[-1,1],"nice":false},"axis":{"values":[-1,-0.8,-0.6,-0.4,-0.2,0,0.2,0.4,0.6,0.8,1],"tickCount":100,"labelOverlap":false,"tickSize":-7,"labelFontSize":11,"labelPadding":11,"labelExpr":"replace(format(datum.value,'.1f'),'-0.','-.')"}}}},
     {"mark":{"type":"line","color":"black","strokeWidth":3,"strokeDash":[4,4]},"encoding":{"x":{"field":"lag","type":"quantitative"},"y":{"field":"a2","type":"quantitative","title":null}}},
     {"data":{"values":[{"k":0}]},"mark":{"type":"rule","color":"black","strokeWidth":2},"encoding":{"y":{"datum":0}}}
    ]},
   {"width":233,"height":153,"data":{"name":"ac"},
    "layer":[
     {"mark":{"type":"line","color":"black","strokeWidth":2.5},"encoding":{"x":{"field":"lag","type":"quantitative","scale":{"domain":[0,48],"nice":false,"zero":false},"axis":{"values":[6,12,18,24,30,36,42,48],"format":"d","tickCount":100,"labelOverlap":false,"tickSize":-9,"labelFontSize":12,"labelPadding":13,"title":null}},"y":{"field":"b1","type":"quantitative","title":null,"scale":{"domain":[-1,1],"nice":false},"axis":{"values":[-1,-0.8,-0.6,-0.4,-0.2,0,0.2,0.4,0.6,0.8,1],"tickCount":100,"labelOverlap":false,"tickSize":-7,"labelFontSize":11,"labelPadding":11,"labelExpr":"replace(format(datum.value,'.1f'),'-0.','-.')"}}}},
     {"mark":{"type":"line","color":"black","strokeWidth":3,"strokeDash":[4,4]},"encoding":{"x":{"field":"lag","type":"quantitative"},"y":{"field":"b2","type":"quantitative","title":null}}},
     {"data":{"values":[{"k":0}]},"mark":{"type":"rule","color":"black","strokeWidth":2},"encoding":{"y":{"datum":0}}}
    ]},
   {"width":233,"height":153,"data":{"name":"ac"},
    "layer":[
     {"mark":{"type":"line","color":"black","strokeWidth":2.5},"encoding":{"x":{"field":"lag","type":"quantitative","scale":{"domain":[0,48],"nice":false,"zero":false},"axis":{"values":[6,12,18,24,30,36,42,48],"format":"d","tickCount":100,"labelOverlap":false,"tickSize":-9,"labelFontSize":12,"labelPadding":13,"title":null}},"y":{"field":"c1","type":"quantitative","title":null,"scale":{"domain":[-1,1],"nice":false},"axis":{"values":[-1,-0.8,-0.6,-0.4,-0.2,0,0.2,0.4,0.6,0.8,1],"tickCount":100,"labelOverlap":false,"tickSize":-7,"labelFontSize":11,"labelPadding":11,"labelExpr":"replace(format(datum.value,'.1f'),'-0.','-.')"}}}},
     {"mark":{"type":"line","color":"black","strokeWidth":3,"strokeDash":[4,4]},"encoding":{"x":{"field":"lag","type":"quantitative"},"y":{"field":"c2","type":"quantitative","title":null}}},
     {"data":{"values":[{"k":0}]},"mark":{"type":"rule","color":"black","strokeWidth":2},"encoding":{"y":{"datum":0}}}
    ]},
   {"width":233,"height":153,"data":{"name":"ac"},
    "layer":[
     {"mark":{"type":"line","color":"black","strokeWidth":2.5},"encoding":{"x":{"field":"lag","type":"quantitative","scale":{"domain":[0,48],"nice":false,"zero":false},"axis":{"values":[6,12,18,24,30,36,42,48],"format":"d","tickCount":100,"labelOverlap":false,"tickSize":-9,"labelFontSize":12,"labelPadding":13,"title":null}},"y":{"field":"d1","type":"quantitative","title":null,"scale":{"domain":[-1,1],"nice":false},"axis":{"values":[-1,-0.8,-0.6,-0.4,-0.2,0,0.2,0.4,0.6,0.8,1],"tickCount":100,"labelOverlap":false,"tickSize":-7,"labelFontSize":11,"labelPadding":11,"labelExpr":"replace(format(datum.value,'.1f'),'-0.','-.')"}}}},
     {"mark":{"type":"line","color":"black","strokeWidth":3,"strokeDash":[4,4]},"encoding":{"x":{"field":"lag","type":"quantitative"},"y":{"field":"d2","type":"quantitative","title":null}}},
     {"data":{"values":[{"k":0}]},"mark":{"type":"rule","color":"black","strokeWidth":2},"encoding":{"y":{"datum":0}}}
    ]}
  ],"spacing":40,"bounds":"flush"}
 ],"spacing":30}
],
"spacing":19
}
